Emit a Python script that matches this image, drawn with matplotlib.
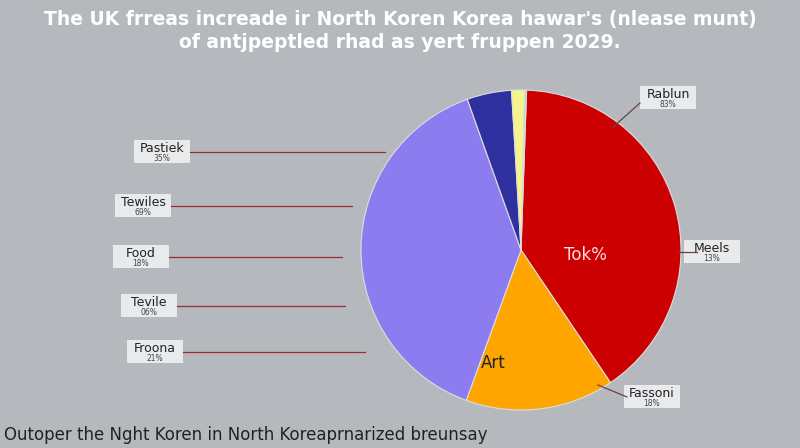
import matplotlib.pyplot as plt
from matplotlib.patches import FancyBboxPatch

# slice data (clockwise from the top)
shares = [40.0, 15.0, 39.0, 4.5, 1.3, 0.2]
colors = ['#cc0000', '#ffa500', '#8c7cf0', '#2e30a0', '#f5f58c', '#a8e0b0']
inner_labels = ['Tok%', 'Art', '', '', '', '']

left_names = ['Pastiek', 'Tewiles', 'Food', 'Tevile', 'Froona']
left_pcts = ['35%', '69%', '18%', '06%', '21%']
right_names = ['Rablun', 'Meels', 'Fassoni']
right_pcts = ['83%', '13%', '18%']

title = "The UK frreas increade ir North Koren Korea hawar's (nlease munt)\nof antjpeptled rhad as yert fruppen 2029."
footer = "Outoper the Nght Koren in North Koreaprnarized breunsay"

bg = '#b5b9be'
fig = plt.figure(figsize=(8, 4.48), dpi=100, facecolor=bg)
ax = fig.add_axes([0, 0, 1, 1])
ax.set_facecolor(bg)

cx, cy, r = 521, 448 - 250, 160
wedges, _ = ax.pie(shares, colors=colors, startangle=88, counterclock=False,
                   center=(cx, cy), radius=r, frame=True,
                   wedgeprops=dict(linewidth=0.8, edgecolor='#dddddd'))
ax.set_xlim(0, 800)
ax.set_ylim(0, 448)
ax.set_aspect('auto')
ax.axis('off')

ax.text(585, 448 - 255, inner_labels[0], color='#ffdddd', fontsize=12, ha='center', va='center')
ax.text(493, 448 - 363, inner_labels[1], color='#222222', fontsize=12, ha='center', va='center')


def label_box(x, y, name, pct):
    ax.add_patch(FancyBboxPatch((x - 28, y - 11), 56, 23, boxstyle='square,pad=0',
                                facecolor='#e9eaec', edgecolor='none'))
    ax.text(x, y + 4, name, fontsize=9, ha='center', va='center', color='#222222')
    ax.text(x, y - 6, pct, fontsize=5.5, ha='center', va='center', color='#444444')


line_col = '#9a2a35'
left_y = [152, 206, 257, 306, 352]
left_x = [162, 143, 141, 149, 155]
left_end = [385, 352, 342, 345, 365]
for x, y, xe, n, p in zip(left_x, left_y, left_end, left_names, left_pcts):
    ax.plot([x + 28, xe], [448 - y, 448 - y], color=line_col, lw=0.9)
    label_box(x, 448 - y, n, p)

# right labels
ax.plot([640, 612], [448 - 103, 448 - 128], color='#6a4050', lw=0.9)
label_box(668, 448 - 98, right_names[0], right_pcts[0])
ax.plot([678, 697], [448 - 252, 448 - 252], color='#6a4050', lw=0.9)
label_box(712, 448 - 252, right_names[1], right_pcts[1])
ax.plot([598, 627], [448 - 385, 448 - 397], color='#6a4050', lw=0.9)
label_box(652, 448 - 397, right_names[2], right_pcts[2])

fig.text(0.5, 1 - 31 / 448, title, ha='center', va='center', fontsize=13.5,
         color='white', fontweight='bold', linespacing=1.3)
fig.text(0.005, 1 - 435 / 448, footer, ha='left', va='center', fontsize=12, color='#222222')

fig.savefig('out.png', dpi=100, facecolor=bg)
